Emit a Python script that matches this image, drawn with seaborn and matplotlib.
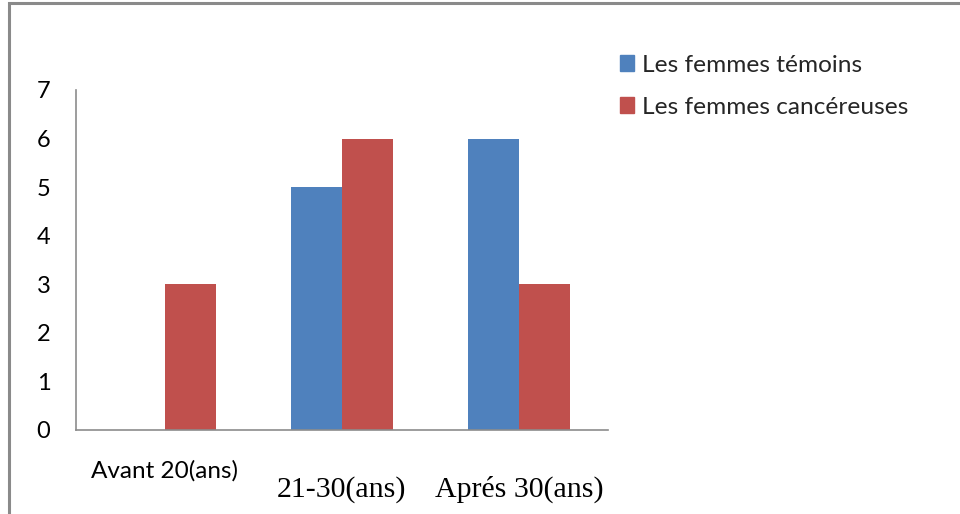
import matplotlib
matplotlib.use("Agg")
import matplotlib.pyplot as plt
import matplotlib.patches as mpatches
import seaborn as sns
import pandas as pd

categories = ["Avant 20(ans)", "21-30(ans)", "Aprés 30(ans)"]
series_names = ["Les femmes témoins", "Les femmes cancéreuses"]
temoins = [0, 5, 6]
cancereuses = [3, 6, 3]
y_ticks = [0, 1, 2, 3, 4, 5, 6, 7]

colors = ["#4F81BD", "#C0504D"]

df = pd.DataFrame({
    "cat": categories * 2,
    "serie": [series_names[0]] * 3 + [series_names[1]] * 3,
    "val": temoins + cancereuses,
})

sns.set_theme(style="white")
plt.rcParams["font.family"] = ["Lato", "DejaVu Sans"]

fig = plt.figure(figsize=(9.6, 5.14), dpi=100)
ax = fig.add_axes([76 / 960, 84 / 514, 532 / 960, 340 / 514])

sns.barplot(data=df, x="cat", y="val", hue="serie", order=categories,
            hue_order=series_names, palette=colors, width=0.577,
            saturation=1, ax=ax, legend=False, linewidth=0)

ax.set_ylim(0, 7)
ax.set_xlim(-0.5, 2.5)
ax.set_yticks(y_ticks)
ax.set_xlabel("")
ax.set_ylabel("")
for s in ["top", "right"]:
    ax.spines[s].set_visible(False)
for s in ["left", "bottom"]:
    ax.spines[s].set_color("#8c8c8c")
    ax.spines[s].set_linewidth(1.2)

ax.tick_params(axis="y", length=0, pad=18.5, labelsize=17, labelcolor="black")
ax.tick_params(axis="x", length=0, labelcolor="black")

ax.set_xticks(range(len(categories)))
ax.set_xticklabels(categories)
xlabels = ax.get_xticklabels()
xticks = ax.xaxis.get_major_ticks()
xlabels[0].set_fontfamily(["Lato", "DejaVu Sans"])
xlabels[0].set_fontsize(17.5)
xticks[0].set_pad(22)
for i in (1, 2):
    xlabels[i].set_fontfamily(["Liberation Serif", "DejaVu Serif"])
    xlabels[i].set_fontsize(21.5)
    xticks[i].set_pad(33)

handles = [mpatches.Patch(color=c, label=n) for c, n in zip(colors, series_names)]
fig.legend(handles=handles, loc="upper left", bbox_to_anchor=(610 / 960, 1 - 45 / 514),
           frameon=False, fontsize=17.6, handlelength=0.6, handleheight=0.6,
           handletextpad=0.3, labelspacing=0.85, borderaxespad=0)

# outer frame of the chart area
frame = mpatches.Rectangle((9 / 960, -0.1), 1.2, 1.1 - 3.5 / 514, transform=fig.transFigure,
                           fill=False, edgecolor="#8a8a8a", linewidth=2.2, clip_on=False)
fig.add_artist(frame)

fig.savefig("out.png", dpi=100)
